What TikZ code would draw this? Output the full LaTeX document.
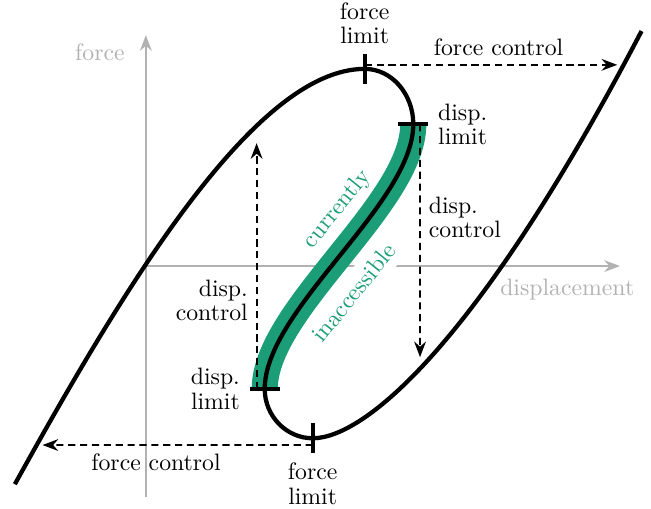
\documentclass[tikz,border=0pt]{standalone}
\usetikzlibrary{arrows.meta}
\definecolor{darkteal}{HTML}{1B9E77}

\begin{document}
\begin{tikzpicture}[
    axis/.style={black!30, line width=0.8pt, -{Stealth}},
    axlabel/.style={black!30},
    curve/.style={line width=1.8pt},
    limit/.style={line width=1.8pt},
    ctrl/.style={thick, dash pattern=on 3pt off 2pt, -{Stealth}},
    lbl/.style={font=\linespread{0.85}\selectfont},
    region/.style={darkteal, rotate=51, fill=white},
  ]
  \useasboundingbox (-2.16,-3.59) rectangle (7.48,3.94);
  % axes
  \draw[axis] (0,-3.42) -- (0,3.42);
  \draw[axis] (0,0) -- (7.02,0);
  \node[axlabel] (flab) at (-0.68,3.17) {force};
  \node[axlabel] (dlab) at (6.24,-0.35) {displacement};
  % turning points of the curve
  \coordinate (fmax) at (3.24,2.92);
  \coordinate (dmax) at (3.96,2.10);
  \coordinate (dmin) at (1.76,-1.82);
  \coordinate (fmin) at (2.47,-2.55);
  \node[region] (cur) at (2.84,0.84) {currently};
  \node[region] (inacc) at (3.08,-0.39) {inaccessible};
  % unstable branch
  \draw[darkteal, line width=11pt] (dmax) .. controls (3.96,0.92) and (1.76,-0.64) .. (dmin);
  \draw[curve] (-1.94,-3.23) .. controls (-0.29,-0.25) and (1.63,2.92) .. (fmax)
    .. controls (3.64,2.92) and (3.96,2.55) .. (dmax)
    .. controls (3.96,0.92) and (1.76,-0.64) .. (dmin)
    .. controls (1.76,-2.22) and (2.08,-2.55) .. (fmin)
    .. controls (3.24,-2.55) and (4.92,-1.15) .. (7.34,3.48);
  % limits
  \draw[limit] ([yshift=-2.2mm]fmax) -- ([yshift=2.2mm]fmax) node[lbl, above, align=center] (fmaxlab) {force\\limit};
  \draw[limit] ([xshift=-2.2mm]dmax) -- ([xshift=2.2mm]dmax) node[lbl, right, align=left] (dmaxlab) {disp.\\limit};
  \draw[limit] ([xshift=2.2mm]dmin) -- ([xshift=-2.2mm]dmin) node[lbl, left, align=right] (dminlab) {disp.\\limit};
  \draw[limit] ([yshift=2.2mm]fmin) -- ([yshift=-2.2mm]fmin) node[lbl, below, align=center] (fminlab) {force\\limit};
  % control paths
  \coordinate (fcR) at (6.98,2.98);
  \coordinate (fcL) at (-1.53,-2.65);
  \coordinate (dcU) at (1.64,1.82);
  \coordinate (dcD) at (4.06,-1.35);
  \draw[ctrl] ([yshift=0.06cm]fmax) -- (fcR) node[pos=0.53, above] (fcRlab) {force control};
  \draw[ctrl] ([yshift=-0.1cm]fmin) -- (fcL) node[pos=0.58, below] (fcLlab) {force control};
  \draw[ctrl] ([xshift=-0.12cm]dmin) -- (dcU) node[lbl, pos=0.36, left, align=right] (dcUlab) {disp.\\control};
  \draw[ctrl] ([xshift=0.1cm]dmax) -- (dcD) node[lbl, pos=0.40, right, align=left] (dcDlab) {disp.\\control};
\end{tikzpicture}
\end{document}
